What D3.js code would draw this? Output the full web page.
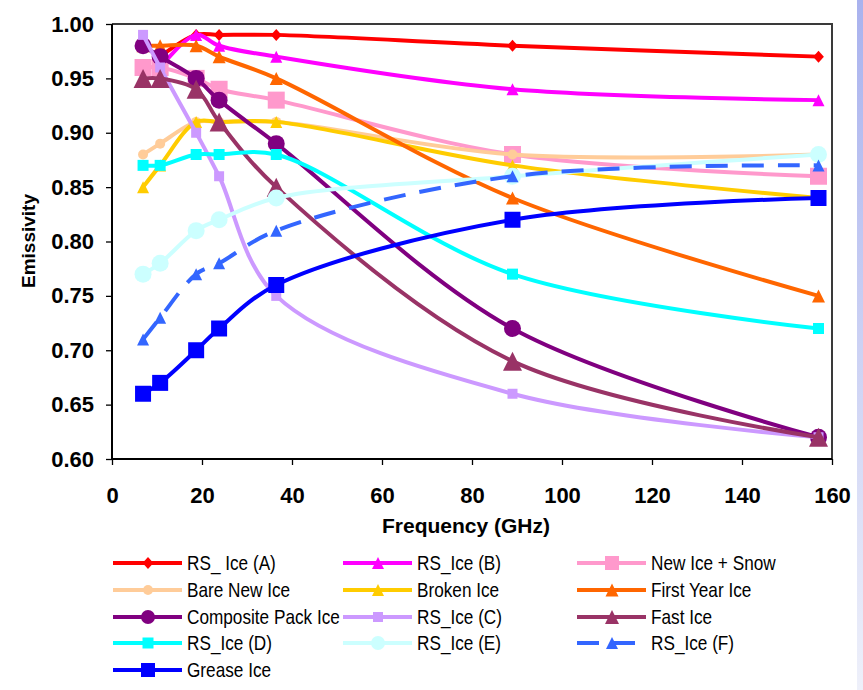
<!DOCTYPE html>
<html>
<head>
<meta charset="utf-8">
<script src="https://cdn.jsdelivr.net/npm/d3@7"></script>
<style>
  html, body { margin: 0; padding: 0; background: #fff; }
  svg { display: block; }
  text { font-family: "Liberation Sans", Arial, sans-serif; fill: #000; }
</style>
</head>
<body>
<svg id="chart" width="863" height="690"></svg>
<script>
// ---------------- DATA ----------------
const frequencies = [6.9, 10.7, 18.7, 23.8, 36.5, 89, 157];
const seriesNames = ["RS_ Ice (A)", "RS_Ice (B)", "New Ice + Snow", "Bare New Ice", "Broken Ice",
  "First Year Ice", "Composite Pack Ice", "RS_Ice (C)", "Fast Ice", "RS_Ice (D)", "RS_Ice (E)",
  "RS_Ice (F)", "Grease Ice"];
const rsIceA        = [null, 0.97, 0.99, 0.99, 0.99, 0.98, 0.97];
const rsIceB        = [null, 0.96, 0.99, 0.98, 0.97, 0.94, 0.93];
const newIceSnow    = [0.96, 0.96, 0.95, 0.94, 0.93, 0.88, 0.86];
const bareNewIce    = [0.88, 0.89, 0.91, 0.91, 0.91, 0.88, 0.88];
const brokenIce     = [0.85, 0.87, 0.91, 0.91, 0.91, 0.87, 0.84];
const firstYearIce  = [0.98, 0.98, 0.98, 0.97, 0.95, 0.84, 0.75];
const compositePack = [0.98, 0.97, 0.95, 0.93, 0.89, 0.72, 0.62];
const rsIceC        = [0.99, 0.96, 0.90, 0.86, 0.75, 0.66, 0.62];
const fastIce       = [0.95, 0.95, 0.94, 0.91, 0.85, 0.69, 0.62];
const rsIceD        = [0.87, 0.87, 0.88, 0.88, 0.88, 0.77, 0.72];
const rsIceE        = [0.77, 0.78, 0.81, 0.82, 0.84, 0.86, 0.88];
const rsIceF        = [0.71, 0.73, 0.77, 0.78, 0.81, 0.86, 0.87];
const greaseIce     = [0.66, 0.67, 0.70, 0.72, 0.76, 0.82, 0.84];
const seriesValues = [rsIceA, rsIceB, newIceSnow, bareNewIce, brokenIce, firstYearIce,
  compositePack, rsIceC, fastIce, rsIceD, rsIceE, rsIceF, greaseIce];
const xTicks = [0, 20, 40, 60, 80, 100, 120, 140, 160];
const yTicks = [0.60, 0.65, 0.70, 0.75, 0.80, 0.85, 0.90, 0.95, 1.00];

// ---------------- STYLE ----------------
const colors = ["#FF0000", "#FF00FF", "#FF99CC", "#FFCC99", "#FFCC00", "#FF6600", "#800080",
  "#CC99FF", "#993366", "#00FFFF", "#CCFFFF", "#3366FF", "#0000FF"];
const shapes = ["diamond", "triangle", "square", "circle", "triangle", "triangle", "circle",
  "square", "triangle", "square", "circle", "triangle", "square"];
const sizes = [12, 12, 17, 10, 12, 13, 17, 10, 19, 11, 17, 12, 16];
const dashed = [false, false, false, false, false, false, false, false, false, false, false, true, false];

const svg = d3.select("#chart");

// side band (slide background)
const defs = svg.append("defs");
const grad = defs.append("linearGradient").attr("id", "band").attr("x1", 0).attr("y1", 0).attr("x2", 0).attr("y2", 1);
grad.append("stop").attr("offset", "0%").attr("stop-color", "#A9B2EE");
grad.append("stop").attr("offset", "100%").attr("stop-color", "#EEF0FA");
svg.append("rect").attr("x", 857).attr("y", 0).attr("width", 6).attr("height", 690).attr("fill", "url(#band)");

const x = d3.scaleLinear().domain([0, 160]).range([112, 832]);
const y = d3.scaleLinear().domain([0.6, 1.0]).range([459, 24]);

function markerPath(shape, s) {
  const h = s / 2;
  const p = d3.path();
  if (shape === "square") { p.rect(-h, -h, s, s); }
  else if (shape === "circle") { p.arc(0, 0, h, 0, 2 * Math.PI); }
  else if (shape === "diamond") { p.moveTo(0, -h); p.lineTo(h * 0.9, 0); p.lineTo(0, h); p.lineTo(-h * 0.9, 0); p.closePath(); }
  else { p.moveTo(0, -h); p.lineTo(h, h); p.lineTo(-h, h); p.closePath(); }
  return p.toString();
}

// frame (top/right)
svg.append("path")
  .attr("d", `M${x(0)},${y(1.0)}H${x(160)}V${y(0.6)}`)
  .attr("fill", "none").attr("stroke", "#3a3a3a").attr("stroke-width", 2);

// series
const line = d3.line()
  .defined(d => d[1] != null)
  .x(d => x(d[0])).y(d => y(d[1]))
  .curve(d3.curveCatmullRom.alpha(0.5));

const plot = svg.append("g");
seriesValues.forEach((vals, i) => {
  const pts = frequencies.map((f, j) => [f, vals[j]]).filter(d => d[1] != null);
  const g = plot.append("g");
  g.append("path").attr("d", line(pts)).attr("fill", "none")
    .attr("stroke", colors[i]).attr("stroke-width", 4)
    .attr("stroke-linejoin", "round")
    .attr("stroke-dasharray", dashed[i] ? "22,14" : null);
  g.selectAll("path.m").data(pts).enter().append("path").attr("class", "m")
    .attr("transform", d => `translate(${x(d[0])},${y(d[1])})`)
    .attr("d", markerPath(shapes[i], sizes[i]))
    .attr("fill", colors[i]);
});

// axes
const yAxis = d3.axisLeft(y).tickValues(yTicks).tickFormat(d3.format(".2f")).tickSize(6).tickPadding(12);
const gy = svg.append("g").attr("transform", `translate(${x(0)},0)`).call(yAxis);
const xAxis = d3.axisBottom(x).tickValues(xTicks).tickFormat(d3.format("d")).tickSize(6).tickPadding(22);
const gx = svg.append("g").attr("transform", `translate(0,${y(0.6)})`).call(xAxis);
[gy, gx].forEach(g => {
  g.select(".domain").attr("stroke", "#000").attr("stroke-width", 2);
  g.selectAll(".tick line").attr("stroke", "#000").attr("stroke-width", 1.3);
  g.selectAll(".tick text").attr("font-family", "Liberation Sans, Arial, sans-serif")
    .attr("font-size", 22).attr("font-weight", "bold").attr("fill", "#000");
});
gy.select(".domain").attr("d", `M0,${y(0.6)}V${y(1.0)}`);
gx.select(".domain").attr("d", `M${x(0)},0H${x(160)}`);

// titles
svg.append("text").attr("x", 466).attr("y", 533).attr("text-anchor", "middle")
  .attr("font-size", 21).attr("font-weight", "bold").text("Frequency (GHz)");
svg.append("text").attr("transform", "translate(35,241) rotate(-90)").attr("text-anchor", "middle")
  .attr("font-size", 19).attr("font-weight", "bold").text("Emissivity");

// legend
const colX = [113, 343, 577];
const rowY = [563, 590, 617, 643, 670];
const legend = svg.append("g");
seriesNames.forEach((name, i) => {
  const cx = colX[i % 3], cy = rowY[Math.floor(i / 3)];
  const g = legend.append("g").attr("transform", `translate(${cx},${cy})`);
  g.append("line").attr("x1", 0).attr("x2", 69).attr("y1", 0).attr("y2", 0)
    .attr("stroke", colors[i]).attr("stroke-width", 4)
    .attr("stroke-dasharray", dashed[i] ? "22,14" : null);
  g.append("path").attr("transform", "translate(35,0)")
    .attr("d", markerPath(shapes[i], Math.min(sizes[i], 14))).attr("fill", colors[i]);
  g.append("text").attr("transform", "translate(74,7) scale(0.86,1)")
    .attr("font-size", 20).text(name);
});
</script>
</body>
</html>
